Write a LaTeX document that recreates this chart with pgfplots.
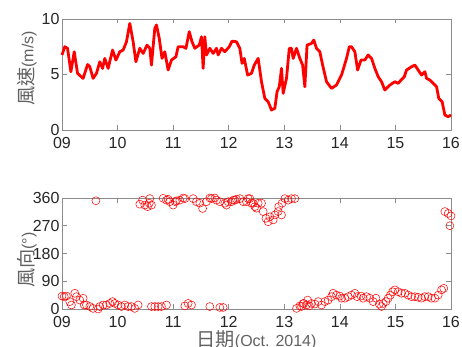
\documentclass[border=0pt]{standalone}
\usepackage{pgfplots}
\pgfplotsset{compat=1.18}
\usepackage{pgfplotstable}
\usepackage{fontspec}
\setmainfont{Liberation Sans}
\newfontfamily\cjk[Scale=1.2]{Noto Sans CJK TC}

\pgfplotstableread{
day speed
9.00 6.76
9.05 7.5
9.10 7.36
9.16 5.25
9.22 7.05
9.28 5.1
9.38 4.65
9.46 5.9
9.50 5.7
9.56 4.65
9.62 5.1
9.68 6.15
9.73 5.55
9.77 6.45
9.83 5.55
9.91 7.2
9.97 6.3
10.04 7.05
10.10 7.2
10.16 7.95
10.22 9.6
10.28 7.95
10.33 6.15
10.40 7.36
10.46 6.9
10.53 7.65
10.58 7.36
10.61 5.85
10.67 9.16
10.70 9.46
10.75 8.26
10.80 6.45
10.85 7.05
10.91 5.4
10.97 6.3
11.05 6.6
11.09 7.5
11.18 7.5
11.23 7.36
11.29 8.86
11.34 7.95
11.39 7.36
11.47 7.65
11.51 8.4
11.54 5.55
11.57 8.4
11.60 6.76
11.66 7.36
11.72 6.9
11.78 7.36
11.81 6.76
11.87 7.36
11.93 7.05
12.01 7.5
12.06 8.0
12.14 7.95
12.20 7.36
12.24 6.0
12.28 6.45
12.34 4.95
12.41 5.1
12.46 5.85
12.53 6.45
12.59 4.35
12.65 2.85
12.71 2.55
12.77 1.8
12.83 1.95
12.87 3.45
12.91 3.9
12.95 5.55
12.98 3.3
13.04 4.65
13.09 7.36
13.13 7.36
13.16 6.45
13.22 7.36
13.28 6.45
13.33 5.85
13.37 3.9
13.41 7.65
13.49 7.8
13.53 8.1
13.58 7.36
13.64 7.05
13.69 5.85
13.76 4.35
13.85 3.75
13.94 4.05
14.03 4.95
14.12 6.45
14.17 7.5
14.21 7.5
14.27 7.05
14.32 5.4
14.38 6.3
14.45 6.3
14.51 6.76
14.57 6.45
14.63 5.55
14.69 4.8
14.75 4.35
14.81 3.6
14.90 4.05
14.99 4.35
15.05 4.2
15.10 4.5
15.16 4.8
15.20 5.4
15.29 5.7
15.35 5.85
15.41 5.4
15.47 4.95
15.53 5.25
15.56 4.65
15.62 4.5
15.68 4.2
15.74 3.9
15.78 2.85
15.84 2.55
15.89 1.35
15.95 1.2
16.00 1.35
}\speedtable

\pgfplotstableread{
day dir
9.00 42
9.04 40
9.08 42
9.14 24
9.17 13
9.23 51
9.26 40
9.32 29
9.38 35
9.40 13
9.44 13
9.50 8
9.56 2
9.65 0
9.68 8
9.74 13
9.80 13
9.86 18
9.91 24
9.95 18
10.01 13
10.07 8
10.13 13
10.19 8
10.25 8
10.31 2
10.37 13
10.61 8
10.67 8
10.73 8
10.79 8
10.88 13
11.21 10
11.27 18
11.33 13
11.66 8
11.84 5
11.90 5
9.61 351
10.40 340
10.45 353
10.49 337
10.54 332
10.57 343
10.58 358
10.61 337
10.82 359
10.88 353
10.91 356
10.94 348
11.00 337
11.04 348
11.06 351
11.12 353
11.18 360
11.21 358
11.36 358
11.42 348
11.48 343
11.53 326
11.60 348
11.66 360
11.69 358
11.75 360
11.78 353
11.84 348
11.93 343
11.96 337
11.99 348
12.05 348
12.08 353
12.11 353
12.14 356
12.20 358
12.26 348
12.32 348
12.35 358
12.38 358
12.41 343
12.44 343
12.47 332
12.50 327
12.53 343
12.59 343
12.62 316
12.67 294
12.71 283
12.74 299
12.80 289
12.83 305
12.89 316
12.95 305
12.90 332
12.96 343
13.01 358
13.07 353
13.13 358
13.19 358
13.22 2
13.28 10
13.31 8
13.34 18
13.35 18
13.40 13
13.42 29
13.45 10
13.49 18
13.55 16
13.61 24
13.67 13
13.73 24
13.79 29
13.85 40
13.88 51
13.94 45
14.00 42
14.03 35
14.09 35
14.15 40
14.21 45
14.27 51
14.31 40
14.38 42
14.42 35
14.48 40
14.54 35
14.60 24
14.65 35
14.71 16
14.75 8
14.78 18
14.83 24
14.87 35
14.91 45
14.95 56
14.99 62
15.05 56
15.11 51
15.17 51
15.23 45
15.29 40
15.35 40
15.41 38
15.47 35
15.53 40
15.59 40
15.65 35
15.71 35
15.77 45
15.83 62
15.87 67
15.89 316
15.95 310
15.98 270
16.00 302
}\dirtable

\begin{document}
\begin{tikzpicture}
\pgfplotsset{
  mystyle/.style={
    anchor=south west,
    width=389bp, height=111bp, scale only axis,
    xmin=9, xmax=16,
    xtick={9,10,11,12,13,14,15,16},
    xticklabels={09,10,11,12,13,14,15,16},
    tick align=inside,
    major tick length=4.5bp,
    axis line style={black!45, line width=0.6bp},
    every tick/.style={black!45, line width=0.6bp},
    tick label style={font=\fontsize{16bp}{18bp}\selectfont, text=black!85},
    xticklabel style={inner sep=0bp, outer sep=0bp, yshift=-7bp},
    yticklabel style={inner sep=0bp, outer sep=0bp, xshift=-2.5bp},
    /pgf/number format/assume math mode=true,
    clip=false,
  }
}
\begin{axis}[mystyle, at={(62bp,217bp)},
  ymin=0, ymax=10, ytick={0,5,10}, yticklabels={0,5,10},
  ylabel={{\cjk 風速}(m/s)},
  every axis y label/.style={at={(axis description cs:-0.09,0.554)}, rotate=90, anchor=center,
    font=\fontsize{16bp}{18bp}\selectfont, text=black!62},
]
\addplot[red, line width=2.8bp, line join=round] table[x=day, y=speed] {\speedtable};
\end{axis}
\begin{axis}[mystyle, at={(62bp,38bp)},
  ymin=0, ymax=360, ytick={0,90,180,270,360}, yticklabels={0,90,180,270,360},
  ylabel={{\cjk 風向}(°)},
  every axis y label/.style={at={(axis description cs:-0.09,0.441)}, rotate=90, anchor=center,
    font=\fontsize{16bp}{18bp}\selectfont, text=black!62},
  xlabel={{\cjk 日期}(Oct. 2014)},
  every axis x label/.style={at={(axis description cs:0.5,0)}, anchor=base, yshift=-37bp,
    font=\fontsize{16bp}{18bp}\selectfont, text=black!62},
]
\addplot[only marks, mark=o, mark size=4bp, red, mark options={line width=0.5bp}] table[x=day, y=dir] {\dirtable};
\end{axis}
\pgfresetboundingbox
\useasboundingbox (0,0) rectangle (462bp,347bp);
\end{tikzpicture}
\end{document}
